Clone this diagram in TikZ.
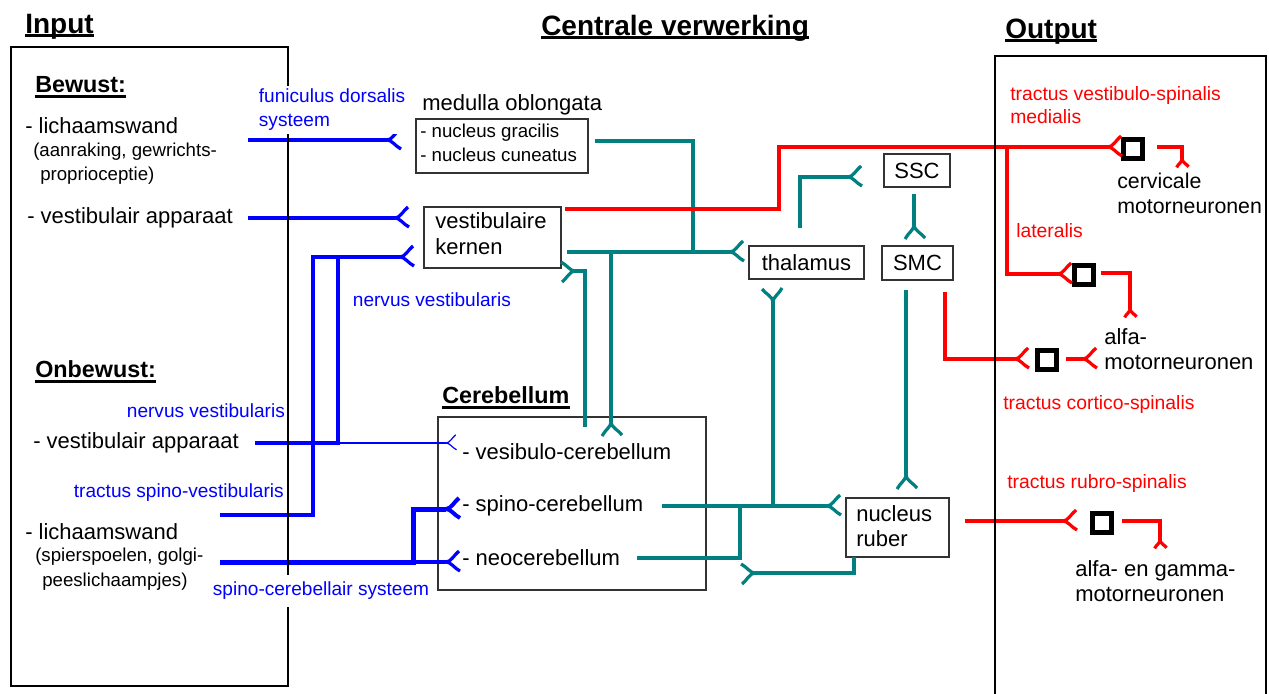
\documentclass[tikz,border=0pt]{standalone}
\usepackage{fontspec}
\setmainfont{Liberation Sans}
\usetikzlibrary{positioning, calc}
\definecolor{nblue}{RGB}{0,0,255}
\definecolor{nred}{RGB}{255,0,0}
\definecolor{nteal}{RGB}{0,128,128}
\tikzset{
  syn/.pic={\draw (0,0) .. controls (5,0) and (8,-7) .. (13,-11)
                  (0,0) .. controls (5,0) and (8,6) .. (14,9);},
}

\begin{document}
\begin{tikzpicture}[x=0.75pt, y=-0.75pt,
    txt/.style={anchor=west, inner sep=0pt, align=left, font=\fontsize{16.5}{18.75}\selectfont},
    sml/.style={anchor=west, inner sep=0pt, align=left, font=\fontsize{14}{18}\selectfont},
    ttl/.style={anchor=base west, inner sep=0pt, font=\fontsize{21}{24}\selectfont\bfseries},
    sub/.style={anchor=base west, inner sep=0pt, font=\fontsize{17.5}{20}\selectfont\bfseries},
    blab/.style={anchor=west, inner sep=2pt, align=left, fill=white, text=nblue, font=\fontsize{14.3}{18}\selectfont},
    rlab/.style={anchor=west, inner sep=0pt, align=left, text=nred, font=\fontsize{14.5}{17.5}\selectfont},
    box/.style={draw=black!80, line width=1.1pt, inner sep=0pt, font=\fontsize{16.5}{18.75}\selectfont},
    outerbox/.style={draw=black, line width=2.2pt},
    uline/.style={line width=1.8pt},
    bl/.style={nblue, line width=2.4pt},
    rd/.style={nred, line width=2.4pt},
    tl/.style={nteal, line width=2.4pt},
    nrn/.style={draw=black, line width=3.75pt, minimum size=14.25pt, inner sep=0pt},
  ]
  \useasboundingbox (0,0) rectangle (1269,693);

  % titles
  \node[ttl] (input) at (25,33) {Input};
  \draw[uline] ([yshift=-2pt]input.base west) -- ([yshift=-2pt]input.base east);
  \node[ttl] (centr) at (541,35) {Centrale verwerking};
  \draw[uline] ([yshift=-2pt]centr.base west) -- ([yshift=-2pt]centr.base east);
  \node[ttl] (output) at (1005,38) {Output};
  \draw[uline] ([yshift=-2pt]output.base west) -- ([yshift=-2pt]output.base east);

  % input side
  \node[sub] (bewust) at (35,92) {Bewust:};
  \draw[uline] ([yshift=-3.5pt]bewust.base west) -- ([yshift=-3.5pt]bewust.base east);
  \node[txt] (lw1) at (25,126) {- lichaamswand};
  \node[sml] (lw1a) at (33,152) {(aanraking, gewrichts-};
  \node[sml] (lw1b) at (40,176) {proprioceptie)};
  \node[txt] (va1) at (27,218) {- vestibulair apparaat};
  \node[sub] (onbewust) at (35,377) {Onbewust:};
  \draw[uline] ([yshift=-3.5pt]onbewust.base west) -- ([yshift=-3.5pt]onbewust.base east);
  \node[txt] (va2) at (33,443) {- vestibulair apparaat};
  \node[txt] (lw2) at (25,532) {- lichaamswand};
  \node[sml] (lw2a) at (35,557) {(spierspoelen, golgi-};
  \node[sml] (lw2b) at (42,582) {peeslichaampjes)};

  % central boxes
  \node[txt] (medt) at (422,105) {medulla oblongata};
  \node[box, minimum width=129pt, minimum height=40.5pt] (medulla) at (502,146) {};
  \node[sml] (nuclei) at (420,143) {- nucleus gracilis\\- nucleus cuneatus};
  \node[box, minimum width=102.75pt, minimum height=45.75pt] (kern) at (492.5,237.5) {};
  \node[txt, font=\fontsize{16.5}{19.5}\selectfont] (kernt) at (435,234) {vestibulaire\\kernen};
  \node[box, minimum width=86.25pt, minimum height=24.75pt] (thal) at (806.5,262.5) {thalamus};
  \node[box, minimum width=49.5pt, minimum height=24.75pt] (ssc) at (917,170.5) {SSC};
  \node[box, minimum width=53.25pt, minimum height=25.5pt] (smc) at (917.5,263) {SMC};
  \node[box, minimum width=77.25pt, minimum height=44.25pt] (ruber) at (897.5,527.5) {};
  \node[txt] (rubert) at (856,526) {nucleus\\ruber};
  \node[sub] (cerebt) at (442,403) {Cerebellum};
  \draw[uline] ([yshift=-3.5pt]cerebt.base west) -- ([yshift=-3.5pt]cerebt.base east);
  \node[box, minimum width=201pt, minimum height=129.75pt] (cereb) at (572,503.5) {};
  \node[txt] (vesib) at (462,452) {- vesibulo-cerebellum};
  \node[txt] (spino) at (462,506) {- spino-cerebellum};
  \node[txt] (neo) at (462,558) {- neocerebellum};

  % output side
  \node[nrn] (cerv) at (1133,149) {};
  \node[nrn] (lat) at (1084,275) {};
  \node[nrn] (alfa) at (1047,360) {};
  \node[nrn] (gam) at (1102,523) {};
  \node[txt, font=\fontsize{16}{18.75}\selectfont] (cervt) at (1117,193) {cervicale\\motorneuronen};
  \node[txt] (alfat) at (1104,349) {alfa-\\motorneuronen};
  \node[txt] (gamt) at (1075,581) {alfa- en gamma-\\motorneuronen};
  \node[rlab] (tvs) at (1010,105) {tractus vestibulo-spinalis\\medialis};
  \node[rlab] (tlat) at (1016,231) {lateralis};
  \node[rlab] (tcs) at (1003,404) {tractus cortico-spinalis};
  \node[rlab] (trs) at (1007,483) {tractus rubro-spinalis};

  % blue afferents
  \draw[bl] (248,140) -- (387,140) coordinate (fdEnd) pic[bl]{syn};
  \draw[bl] (248,218) -- (395,218) coordinate (vaEnd) pic[bl]{syn};
  \draw[bl] (220,515) -- (313,515) -- (313,257) -- (400,257) coordinate (nvEnd) pic[bl]{syn};
  \draw[bl] (255,443) -- (338,443) -- (338,257);
  \fill[nblue] (338,443) circle (1.6pt);
  \draw[nblue, line width=0.9pt] (338,443) -- (446,443) coordinate (vcEnd) pic[nblue, line width=0.9pt, scale=0.75]{syn};
  \draw[nblue, line width=3.75pt] (220,562) -- (413,562) -- (413,509) -- (446,509) coordinate (scEnd) pic[nblue, line width=3pt]{syn};
  \draw[bl] (413,562) -- (446,562) coordinate (ncEnd) pic[bl]{syn};

  % teal central pathways
  \draw[tl] (595,141) -- (693,141) -- (693,252);
  \draw[tl] (567,252) -- (730,252) coordinate (thIn) pic[tl]{syn};
  \draw[tl] (611,252) -- (611,422) coordinate (cbIn) pic[tl, rotate=-90]{syn};
  \draw[tl] (585,427) -- (585,271) -- (575,271) coordinate (vkIn) pic[tl, rotate=180]{syn};
  \draw[tl] (800,228) -- (800,177) -- (848,177) coordinate (sscIn) pic[tl]{syn};
  \draw[tl] (914,194) -- (914,225) coordinate (smcIn) pic[tl, rotate=-90]{syn};
  \draw[tl] (773,506) -- (773,302) coordinate (thOut) pic[tl, rotate=90]{syn};
  \draw[tl] (662,506) -- (827,506) coordinate (nrIn) pic[tl]{syn};
  \draw[tl] (740,506) -- (740,558) -- (637,558);
  \draw[tl] (906,290) -- (906,475) coordinate (nrIn2) pic[tl, rotate=-90]{syn};
  \draw[tl] (854,557) -- (854,573) -- (755,573) coordinate (cbBack) pic[tl, rotate=180]{syn};

  % red efferents
  \draw[rd] (565,209) -- (779,209) -- (779,147) -- (1108,147) coordinate (cervIn) pic[rd]{syn};
  \draw[rd] (1007,147) -- (1007,274) -- (1058,274) coordinate (latIn) pic[rd]{syn};
  \draw[rd] (1157,147) -- (1182,147) -- (1182,159) coordinate (cervOut) pic[rd, rotate=-90, scale=0.6]{syn};
  \draw[rd] (1101,273) -- (1130,273) -- (1130,309) coordinate (latOut) pic[rd, rotate=-90, scale=0.6]{syn};
  \draw[rd] (945,292) -- (945,359) -- (1015,359) coordinate (alfaIn) pic[rd]{syn};
  \draw[rd] (1066,359) -- (1083,359) coordinate (alfaOut) pic[rd]{syn};
  \draw[rd] (965,521) -- (1063,521) coordinate (gamIn) pic[rd]{syn};
  \draw[rd] (1122,521) -- (1160,521) -- (1160,540) coordinate (gamOut) pic[rd, rotate=-90, scale=0.6]{syn};

  % input / output frames
  \draw[outerbox] (11,47) rectangle (288,686);
  \draw[outerbox] (995,700) -- (995,56) -- (1266,56) -- (1266,700);

  % labels on top of the frame
  \node[blab] (fds) at (256,110) {funiculus dorsalis\\systeem};
  \node[blab, fill=none] (nvs) at (124,411) {nervus vestibularis};
  \node[blab, fill=none] (nvs2) at (350,300) {nervus vestibularis};
  \node[blab, fill=none] (tsv) at (71,493) {tractus spino-vestibularis};
  \node[blab, inner ysep=5pt] (scs) at (210,591) {spino-cerebellair systeem};
\end{tikzpicture}
\end{document}
